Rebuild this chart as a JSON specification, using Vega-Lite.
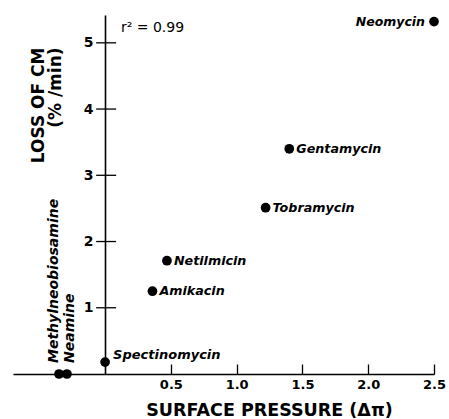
{
  "$schema": "https://vega.github.io/schema/vega-lite/v6.json",
  "width": 421,
  "height": 359,
  "autosize": "none",
  "padding": {"left": 13, "top": 15, "right": 15, "bottom": 45},
  "background": "white",
  "config": {"view": {"stroke": null}, "font": "DejaVu Sans"},
  "datasets": {
    "drugs": [
      {"drug": "Neomycin", "x": 2.5, "y": 5.32},
      {"drug": "Gentamycin", "x": 1.4, "y": 3.4},
      {"drug": "Tobramycin", "x": 1.22, "y": 2.51},
      {"drug": "Netilmicin", "x": 0.47, "y": 1.71},
      {"drug": "Amikacin", "x": 0.36, "y": 1.25},
      {"drug": "Spectinomycin", "x": 0.0, "y": 0.18},
      {"drug": "Methylneobiosamine", "x": -0.35, "y": 0.0},
      {"drug": "Neamine", "x": -0.29, "y": 0.0}
    ],
    "yticks": [{"y": 1}, {"y": 2}, {"y": 3}, {"y": 4}, {"y": 5}],
    "note": [{"label": "r² = 0.99", "x": 0.12, "y": 5.23}]
  },
  "layer": [
    {
      "data": {"name": "yticks"},
      "mark": {"type": "rule", "strokeWidth": 1.3, "color": "black"},
      "encoding": {
        "x": {"datum": -0.068, "type": "quantitative"},
        "x2": {"datum": 0.084},
        "y": {"field": "y", "type": "quantitative"}
      }
    },
    {
      "data": {"name": "drugs"},
      "mark": {"type": "point", "filled": true, "size": 95, "color": "black", "opacity": 1},
      "encoding": {
        "x": {
          "field": "x", "type": "quantitative",
          "scale": {"domain": [-0.7, 2.5], "nice": false, "zero": false},
          "axis": {
            "values": [0.5, 1, 1.5, 2, 2.5], "format": ".1f", "ticks": true, "tickSize": -10,
            "tickColor": "black", "tickWidth": 1.3, "grid": false,
            "domainColor": "black", "domainWidth": 1.6,
            "labelFontSize": 13, "labelFontWeight": "bold", "labelColor": "black", "labelPadding": 14, "labelFlush": false,
            "title": "SURFACE PRESSURE (Δπ)", "titleFontSize": 17.5, "titleFontWeight": "bold",
            "titleColor": "black", "titleX": 256, "titleY": 36, "titleBaseline": "middle", "titleAlign": "center"
          }
        },
        "y": {
          "field": "y", "type": "quantitative",
          "scale": {"domain": [0, 5.42], "nice": false},
          "axis": {
            "values": [1, 2, 3, 4, 5], "format": "d", "offset": -92, "ticks": false, "grid": false,
            "domainColor": "black", "domainWidth": 1.6,
            "labelFontSize": 14, "labelFontWeight": "bold", "labelColor": "black", "labelPadding": 12,
            "title": ["LOSS OF CM", "(% /min)"], "titleFontSize": 17, "titleFontWeight": "bold",
            "titleColor": "black", "titleAngle": 270, "titleAlign": "right", "titleBaseline": "top",
            "titleLineHeight": 17, "titleX": -75, "titleY": 32
          }
        }
      }
    },
    {
      "data": {"name": "note"},
      "mark": {"type": "text", "align": "left", "baseline": "middle", "fontSize": 14, "color": "black"},
      "encoding": {
        "x": {"field": "x", "type": "quantitative"},
        "y": {"field": "y", "type": "quantitative"},
        "text": {"field": "label"}
      }
    },
    {
      "data": {"name": "drugs"},
      "transform": [{"filter": "indexof(['Gentamycin','Tobramycin','Netilmicin','Amikacin'], datum.drug) >= 0"}],
      "mark": {"type": "text", "align": "left", "baseline": "middle", "dx": 7, "fontSize": 12.7, "fontStyle": "italic", "fontWeight": "bold", "color": "black"},
      "encoding": {
        "x": {"field": "x", "type": "quantitative"},
        "y": {"field": "y", "type": "quantitative"},
        "text": {"field": "drug"}
      }
    },
    {
      "data": {"name": "drugs"},
      "transform": [{"filter": "datum.drug === 'Spectinomycin'"}],
      "mark": {"type": "text", "align": "left", "baseline": "middle", "dx": 8, "dy": -7, "fontSize": 13, "fontStyle": "italic", "fontWeight": "bold", "color": "black"},
      "encoding": {
        "x": {"field": "x", "type": "quantitative"},
        "y": {"field": "y", "type": "quantitative"},
        "text": {"field": "drug"}
      }
    },
    {
      "data": {"name": "drugs"},
      "transform": [{"filter": "datum.drug === 'Neomycin'"}],
      "mark": {"type": "text", "align": "right", "baseline": "middle", "dx": -9, "fontSize": 12.5, "fontStyle": "italic", "fontWeight": "bold", "color": "black"},
      "encoding": {
        "x": {"field": "x", "type": "quantitative"},
        "y": {"field": "y", "type": "quantitative"},
        "text": {"field": "drug"}
      }
    },
    {
      "data": {"name": "drugs"},
      "transform": [{"filter": "datum.drug === 'Methylneobiosamine'"}],
      "mark": {"type": "text", "align": "left", "baseline": "middle", "angle": 270, "dx": 11, "dy": -5, "fontSize": 14, "fontStyle": "italic", "fontWeight": "bold", "color": "black"},
      "encoding": {
        "x": {"field": "x", "type": "quantitative"},
        "y": {"field": "y", "type": "quantitative"},
        "text": {"field": "drug"}
      }
    },
    {
      "data": {"name": "drugs"},
      "transform": [{"filter": "datum.drug === 'Neamine'"}],
      "mark": {"type": "text", "align": "left", "baseline": "middle", "angle": 270, "dx": 11, "dy": 3, "fontSize": 14, "fontStyle": "italic", "fontWeight": "bold", "color": "black"},
      "encoding": {
        "x": {"field": "x", "type": "quantitative"},
        "y": {"field": "y", "type": "quantitative"},
        "text": {"field": "drug"}
      }
    }
  ]
}
